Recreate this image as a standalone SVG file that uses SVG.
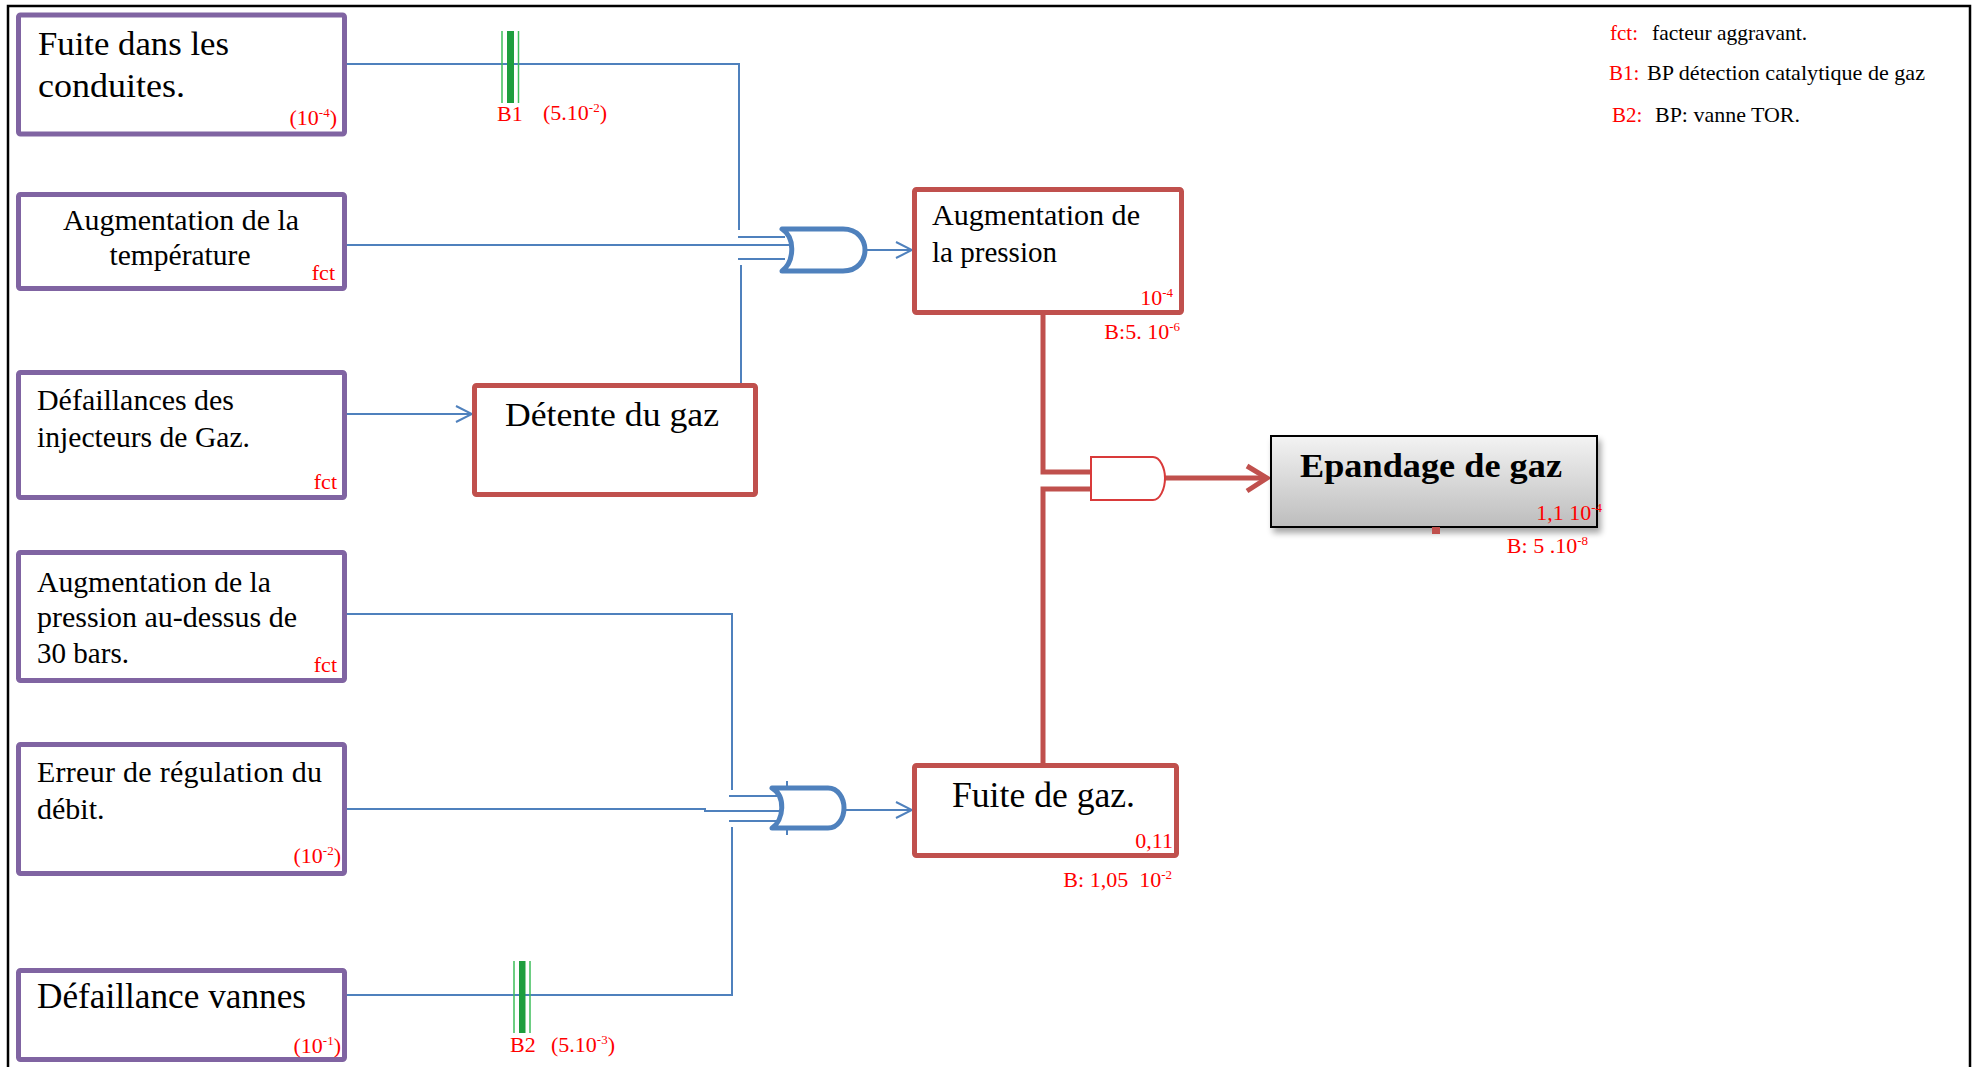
<svg xmlns="http://www.w3.org/2000/svg" width="1973" height="1067" viewBox="0 0 1973 1067">
<defs>
<style>
.t{font-family:"Liberation Serif","Times New Roman",serif;fill:#000}
.r{font-family:"Liberation Serif","Times New Roman",serif;fill:#F00;font-size:22px}
.pb{fill:#fff;stroke:#8064A2;stroke-width:5}
.rb{fill:#fff;stroke:#C0504D;stroke-width:5}
.bl{fill:none;stroke:#4F81BD;stroke-width:2}
.rl{fill:none;stroke:#C0504D;stroke-width:5}
.or{fill:#fff;stroke:#4F81BD;stroke-width:5;stroke-linejoin:round}
.gth{fill:#1E9E3E}
.gtn{stroke:#3DBE5A;stroke-width:1.5}
.lg{font-family:"Liberation Serif","Times New Roman",serif;font-size:21px}
</style>
<marker id="arr" viewBox="-18 -10 20 20" refX="0" refY="0" markerWidth="20" markerHeight="20" markerUnits="userSpaceOnUse" orient="auto">
<path d="M-16,-8 L0,0 L-16,8" fill="none" stroke="#4F81BD" stroke-width="2"/>
</marker>
<linearGradient id="gg" x1="0" y1="0" x2="0" y2="1">
<stop offset="0" stop-color="#F3F3F3"/>
<stop offset="1" stop-color="#BDBDBD"/>
</linearGradient>
<filter id="sh" x="-10%" y="-20%" width="130%" height="160%">
<feGaussianBlur in="SourceAlpha" stdDeviation="3"/>
<feOffset dx="3" dy="5" result="b"/>
<feComponentTransfer><feFuncA type="linear" slope="0.35"/></feComponentTransfer>
<feMerge><feMergeNode/><feMergeNode in="SourceGraphic"/></feMerge>
</filter>
</defs>
<rect width="1973" height="1067" fill="#fff"/>
<rect x="8" y="6" width="1962" height="1075" fill="none" stroke="#000" stroke-width="2.5"/>

<g id="connectors">
<path class="bl" d="M347,64 H739 V230"/>
<path class="bl" d="M738,237 H785"/>
<path class="bl" d="M347,245 H793"/>
<path class="bl" d="M738,259 H785"/>
<path class="bl" d="M741,383 V265"/>
<path class="bl" d="M865,250 H912" marker-end="url(#arr)"/>
<path class="bl" d="M347,414 H472" marker-end="url(#arr)"/>
<path class="bl" d="M347,614 H732 V790"/>
<path class="bl" d="M729,796 H777"/>
<path class="bl" d="M347,809 H705 V811 H782"/>
<path class="bl" d="M729,821 H777"/>
<path class="bl" d="M347,995 H732 V827"/>
<path class="bl" d="M844,810 H912" marker-end="url(#arr)"/>
<path class="rl" d="M1043,315 V472 H1092"/>
<path class="rl" d="M1043,763 V489 H1092"/>
<path class="rl" d="M1165,478 H1264"/>
<path class="rl" d="M1247,466 L1267,478 L1247,491" stroke-linejoin="miter"/>
</g>

<g id="gate-or-1">
<path class="or" d="M782,229 H843 C858,229 865,240 865,250 C865,260 858,271 843,271 H782 C794,262 796,238 782,229 Z"/>
</g>
<g id="gate-or-2">
<path class="or" d="M772,788 H828 C838,788 844,798 844,808 C844,818 838,828 828,828 H772 C784,820 786,796 772,788 Z"/>
<path class="bl" d="M787,781 V788 M787,828 V835"/>
</g>
<g id="gate-and">
<path d="M1091,457 H1153 C1160,457 1165,468 1165,478 C1165,489 1160,500 1153,500 H1091 Z" fill="#fff" stroke="#D93A3A" stroke-width="2"/>
</g>

<g id="barrier-B1">
<line class="gtn" x1="502" y1="31" x2="502" y2="103"/>
<rect class="gth" x="507" y="31" width="7" height="72"/>
<line class="gtn" x1="518.5" y1="31" x2="518.5" y2="103"/>
<text class="r" x="497" y="121">B1</text>
<text class="r" x="543" y="120">(5.10<tspan font-size="13" dy="-8">-2</tspan><tspan dy="8">)</tspan></text>
</g>
<g id="barrier-B2">
<line class="gtn" x1="514" y1="961" x2="514" y2="1033"/>
<rect class="gth" x="519" y="961" width="6.5" height="72"/>
<line class="gtn" x1="530" y1="961" x2="530" y2="1033"/>
<text class="r" x="510" y="1052">B2</text>
<text class="r" x="551" y="1052">(5.10<tspan font-size="13" dy="-8">-3</tspan><tspan dy="8">)</tspan></text>
</g>

<g id="n-fuite-conduites">
<rect class="pb" x="18.5" y="15" width="326" height="119" rx="2"/>
<text class="t" font-size="34" x="38" y="55" textLength="191" lengthAdjust="spacingAndGlyphs">Fuite dans les</text>
<text class="t" font-size="34" x="38" y="97" textLength="147" lengthAdjust="spacingAndGlyphs">conduites.</text>
<text class="r" x="337" y="125" text-anchor="end">(10<tspan font-size="13" dy="-8">-4</tspan><tspan dy="8">)</tspan></text>
</g>
<g id="n-temperature">
<rect class="pb" x="18.5" y="194.5" width="326" height="94" rx="2"/>
<text class="t" font-size="30" x="181" y="230" text-anchor="middle" textLength="236" lengthAdjust="spacingAndGlyphs">Augmentation de la</text>
<text class="t" font-size="30" x="180" y="265" text-anchor="middle" textLength="141" lengthAdjust="spacingAndGlyphs">température</text>
<text class="r" x="335" y="280" text-anchor="end">fct</text>
</g>
<g id="n-injecteurs">
<rect class="pb" x="18.5" y="372.5" width="326" height="125" rx="2"/>
<text class="t" font-size="30" x="37" y="410" textLength="197" lengthAdjust="spacingAndGlyphs">Défaillances des</text>
<text class="t" font-size="30" x="37" y="447" textLength="213" lengthAdjust="spacingAndGlyphs">injecteurs de Gaz.</text>
<text class="r" x="337" y="489" text-anchor="end">fct</text>
</g>
<g id="n-pression-30">
<rect class="pb" x="18.5" y="552.5" width="326" height="128" rx="2"/>
<text class="t" font-size="30" x="37" y="592" textLength="234" lengthAdjust="spacingAndGlyphs">Augmentation de la</text>
<text class="t" font-size="30" x="37" y="627" textLength="260" lengthAdjust="spacingAndGlyphs">pression au-dessus de</text>
<text class="t" font-size="30" x="37" y="663" textLength="92" lengthAdjust="spacingAndGlyphs">30 bars.</text>
<text class="r" x="337" y="672" text-anchor="end">fct</text>
</g>
<g id="n-regulation">
<rect class="pb" x="18.5" y="744.5" width="326" height="129" rx="2"/>
<text class="t" font-size="30" x="37" y="782" textLength="285" lengthAdjust="spacing">Erreur de régulation du</text>
<text class="t" font-size="30" x="37" y="819">débit.</text>
<text class="r" x="341" y="863" text-anchor="end">(10<tspan font-size="13" dy="-8">-2</tspan><tspan dy="8">)</tspan></text>
</g>
<g id="n-vannes">
<rect class="pb" x="18.5" y="970.5" width="326" height="89" rx="2"/>
<text class="t" font-size="35" x="37" y="1008" textLength="269" lengthAdjust="spacingAndGlyphs">Défaillance vannes</text>
<text class="r" x="341" y="1053" text-anchor="end">(10<tspan font-size="13" dy="-8">-1</tspan><tspan dy="8">)</tspan></text>
</g>
<g id="n-detente">
<rect class="rb" x="474.5" y="385.5" width="281" height="109" rx="2"/>
<text class="t" font-size="34" x="505" y="426" textLength="214" lengthAdjust="spacingAndGlyphs">Détente du gaz</text>
</g>
<g id="n-aug-pression">
<rect class="rb" x="914.5" y="189.5" width="267" height="123" rx="2"/>
<text class="t" font-size="30" x="932" y="225" textLength="208" lengthAdjust="spacingAndGlyphs">Augmentation de</text>
<text class="t" font-size="30" x="932" y="262" textLength="125" lengthAdjust="spacingAndGlyphs">la pression</text>
<text class="r" x="1173" y="305" text-anchor="end">10<tspan font-size="13" dy="-8">-4</tspan></text>
<text class="r" x="1180" y="339" text-anchor="end">B:5. 10<tspan font-size="13" dy="-8">-6</tspan></text>
</g>
<g id="n-fuite-gaz">
<rect class="rb" x="914.5" y="765.5" width="262" height="90" rx="2"/>
<text class="t" font-size="35" x="952" y="807" textLength="183" lengthAdjust="spacingAndGlyphs">Fuite de gaz.</text>
<text class="r" x="1173" y="848" text-anchor="end">0,11</text>
<text class="r" x="1172" y="887" text-anchor="end" xml:space="preserve">B: 1,05  10<tspan font-size="13" dy="-8">-2</tspan></text>
</g>
<g id="n-epandage">
<rect x="1271" y="436" width="326" height="91" fill="url(#gg)" stroke="#000" stroke-width="2" filter="url(#sh)"/>
<text class="t" font-size="33" font-weight="bold" x="1300" y="477" textLength="262" lengthAdjust="spacingAndGlyphs">Epandage de gaz</text>
<text class="r" x="1602" y="520" text-anchor="end">1,1 10<tspan font-size="13" dy="-8">-4</tspan></text>
<text class="r" x="1588" y="553" text-anchor="end">B: 5 .10<tspan font-size="13" dy="-8">-8</tspan></text>
<rect x="1432" y="527" width="8" height="7" fill="#C0504D"/>
</g>

<g id="legend">
<text class="lg" x="1610" y="40"><tspan fill="#F00">fct:</tspan></text>
<text class="lg" x="1652" y="40" textLength="155" lengthAdjust="spacingAndGlyphs">facteur aggravant.</text>
<text class="lg" x="1609" y="80"><tspan fill="#F00">B1:</tspan></text>
<text class="lg" x="1647" y="80" textLength="278" lengthAdjust="spacingAndGlyphs">BP détection catalytique de gaz</text>
<text class="lg" x="1612" y="122"><tspan fill="#F00">B2:</tspan></text>
<text class="lg" x="1655" y="122" textLength="145" lengthAdjust="spacingAndGlyphs">BP: vanne TOR.</text>
</g>
</svg>
